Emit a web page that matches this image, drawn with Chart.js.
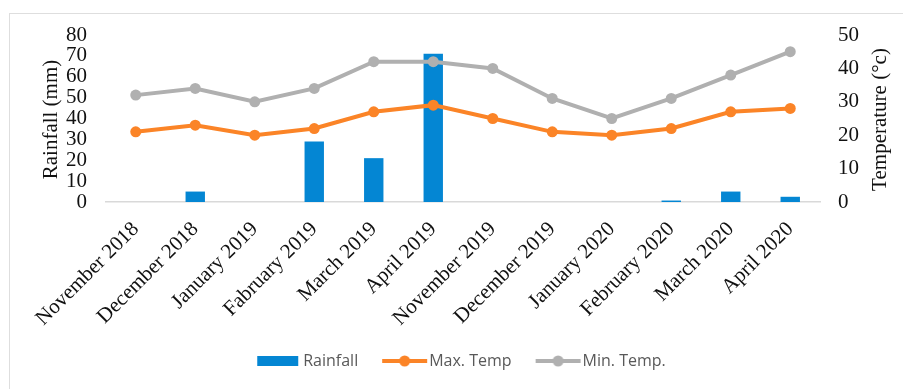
<!DOCTYPE html>
<html>
<head>
<meta charset="utf-8">
<script src="https://cdn.jsdelivr.net/npm/chart.js@4/dist/chart.umd.min.js"></script>
<style>
  html, body { margin: 0; padding: 0; background: #fff; }
  #wrap { position: relative; width: 903px; height: 389px; overflow: hidden; }
  #frame { position: absolute; left: 9px; top: 13px; width: 1000px; height: 400px;
           border-left: 1px solid #dedede; border-top: 1px solid #dedede; pointer-events: none; }
  canvas { position: absolute; left: 0; top: 0; }
</style>
</head>
<body>
<div id="wrap">
  <canvas id="c" width="903" height="389"></canvas>
  <div id="frame"></div>
</div>
<script>
const categories = ['November 2018','December 2018','January 2019','Fabruary 2019','March 2019','April 2019',
                    'November 2019','December 2019','January 2020','February 2020','March 2020','April 2020'];
const rainfall = [0, 5, 0, 29, 21, 71, 0, 0, 0, 0.7, 5, 2.5];
const maxTemp  = [21, 23, 20, 22, 27, 29, 25, 21, 20, 22, 27, 28];
const minTemp  = [32, 34, 30, 34, 42, 42, 40, 31, 25, 31, 38, 45];
const rainTicks = { min: 0, max: 80, step: 10 };
const tempTicks = { min: 0, max: 50, step: 10 };
const rainTitle = 'Rainfall (mm)';
const tempTitle = 'Temperature (°c)';

const BLUE = '#0486d3';
const ORANGE = '#fb8427';
const GRAY = '#b0b0b0';
const SERIF = "'Liberation Serif', 'Times New Roman', serif";

// legend symbols
function legendLine(color) {
  const c = document.createElement('canvas');
  c.width = 70; c.height = 14;
  const g = c.getContext('2d');
  g.strokeStyle = color; g.lineWidth = 4;
  g.beginPath(); g.moveTo(21, 7); g.lineTo(66, 7); g.stroke();
  g.fillStyle = color;
  g.beginPath(); g.arc(43.5, 7, 5.5, 0, Math.PI * 2); g.fill();
  return c;
}
function legendBox(color) {
  const c = document.createElement('canvas');
  c.width = 70; c.height = 14;
  const g = c.getContext('2d');
  g.fillStyle = color;
  g.fillRect(22, 2, 41, 10);
  return c;
}
const legendSymbols = [legendBox(BLUE), legendLine(ORANGE), legendLine(GRAY)];

const titlePlugin = {
  id: 'axisTitles',
  afterDraw(chart) {
    const ctx = chart.ctx;
    const a = chart.chartArea;
    const midY = (a.top + a.bottom) / 2 + 1;
    ctx.save();
    ctx.fillStyle = '#111';
    ctx.font = '21px ' + SERIF;
    ctx.textAlign = 'center';
    ctx.textBaseline = 'middle';
    ctx.translate(51, midY);
    ctx.rotate(-Math.PI / 2);
    ctx.fillText(rainTitle, 0, 0);
    ctx.restore();
    ctx.save();
    ctx.fillStyle = '#111';
    ctx.font = '21px ' + SERIF;
    ctx.textAlign = 'center';
    ctx.textBaseline = 'middle';
    ctx.translate(880, midY);
    ctx.rotate(-Math.PI / 2);
    ctx.fillText(tempTitle, 0, 0);
    ctx.restore();
  }
};

new Chart(document.getElementById('c'), {
  type: 'bar',
  data: {
    labels: categories,
    datasets: [
      { type: 'bar', label: 'Rainfall', data: rainfall, yAxisID: 'y', backgroundColor: BLUE,
        barPercentage: 0.326, categoryPercentage: 1, order: 2 },
      { type: 'line', label: 'Max. Temp', data: maxTemp, yAxisID: 'y1', borderColor: ORANGE,
        backgroundColor: ORANGE, borderWidth: 4, pointRadius: 5.5, pointBorderWidth: 0,
        pointBackgroundColor: ORANGE, tension: 0, order: 1 },
      { type: 'line', label: 'Min. Temp.', data: minTemp, yAxisID: 'y1', borderColor: GRAY,
        backgroundColor: GRAY, borderWidth: 4, pointRadius: 5.5, pointBorderWidth: 0,
        pointBackgroundColor: GRAY, tension: 0, order: 1 }
    ]
  },
  options: {
    responsive: false,
    animation: false,
    layout: { padding: { left: 18, right: 10, top: 35, bottom: 10 } },
    plugins: {
      tooltip: { enabled: false },
      legend: {
        position: 'bottom',
        labels: {
          usePointStyle: true,
          pointStyleWidth: 50,
          padding: 13,
          color: '#595959',
          font: { family: "'Open Sans', sans-serif", size: 16 },
          sort: (a, b) => a.datasetIndex - b.datasetIndex,
          generateLabels(chart) {
            const items = Chart.defaults.plugins.legend.labels.generateLabels(chart);
            items.forEach(it => { it.pointStyle = legendSymbols[it.datasetIndex]; });
            return items;
          }
        }
      }
    },
    scales: {
      x: {
        offset: true,
        grid: { display: false, drawTicks: false },
        border: { display: true, color: '#d9d9d9', width: 1.5 },
        ticks: { minRotation: 45, maxRotation: 45, autoSkip: false, padding: 15,
                 color: '#111', font: { family: SERIF, size: 21 } },
        afterFit(s) { s.height = 138; }
      },
      y: {
        position: 'left',
        min: rainTicks.min, max: rainTicks.max,
        grid: { display: false, drawTicks: false },
        border: { display: false },
        ticks: { stepSize: rainTicks.step, autoSkip: false, padding: 19, color: '#111',
                 font: { family: SERIF, size: 21 } },
        afterFit(s) { s.width = 88; }
      },
      y1: {
        position: 'right',
        min: tempTicks.min, max: tempTicks.max,
        grid: { display: false, drawTicks: false },
        border: { display: false },
        ticks: { stepSize: tempTicks.step, autoSkip: false, padding: 18, color: '#111',
                 font: { family: SERIF, size: 21 } },
        afterFit(s) { s.width = 73; }
      }
    }
  },
  plugins: [titlePlugin]
});
</script>
</body>
</html>
